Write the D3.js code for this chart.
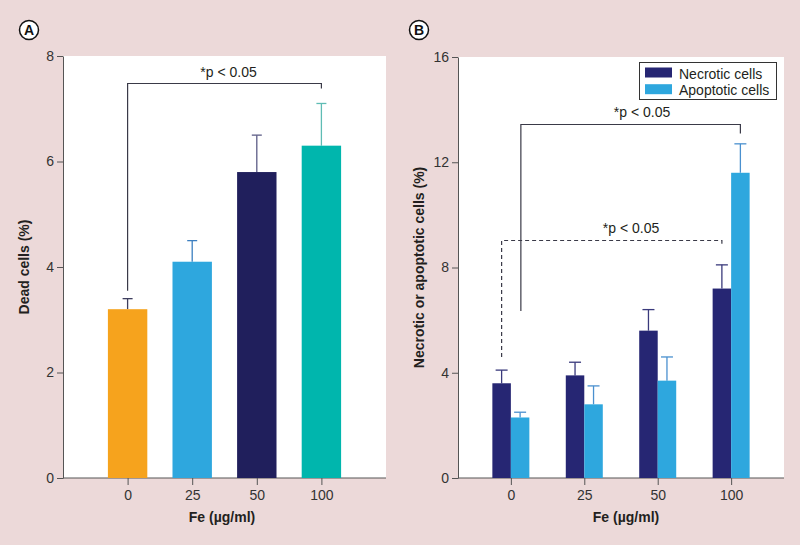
<!DOCTYPE html>
<html><head><meta charset="utf-8">
<script src="https://cdn.jsdelivr.net/npm/d3@7"></script>
<style>
body{margin:0;background:#ecd9d9;}
svg{display:block;font-family:"Liberation Sans",Arial,sans-serif;}
</style></head>
<body><svg id="c" width="800" height="545"></svg>
<script>
// ---- data ----
const doses = ["0","25","50","100"];
// Panel A: dead cells (%)
const deadMean = [3.2, 4.1, 5.8, 6.3];
const deadErr  = [0.2, 0.4, 0.7, 0.8];
const deadColors = ["#f6a31d","#2ea7de","#201f5c","#00b6ad"];
const deadErrColors = ["#3e3e5e","#3c7fc0","#5c5c86","#5fbcb4"];
const yTicksA = [0,2,4,6,8];
// Panel B: necrotic / apoptotic cells (%)
const seriesNames = ["Necrotic cells","Apoptotic cells"];
const necroticMean = [3.6, 3.9, 5.6, 7.2];
const necroticErr  = [0.5, 0.5, 0.8, 0.9];
const apoptoticMean = [2.3, 2.8, 3.7, 11.6];
const apoptoticErr  = [0.2, 0.7, 0.9, 1.1];
const seriesColors = ["#262673","#2ea7de"];
const seriesErrColors = ["#3a3a7c","#4a90cf"];
const yTicksB = [0,4,8,12,16];

const svg = d3.select("#c");
const axisCol = "#555";
const txtCol = "#231f20";

function drawAxes(g, x, y, ticks, x0, x1, yTop, yBot, title, xTitleX, xTitleY, yTitleX){
  g.append("rect").attr("x",x0).attr("y",yTop).attr("width",x1-x0).attr("height",yBot-yTop).attr("fill","#fff");
  const ya = g.append("g").attr("transform",`translate(${x0},0)`)
    .call(d3.axisLeft(y).tickValues(ticks).tickSize(6).tickPadding(3).tickSizeOuter(0));
  ya.select(".domain").attr("stroke",axisCol);
  ya.selectAll("line").attr("stroke",axisCol);
  ya.selectAll("text").attr("font-size",14).attr("fill","#333").attr("font-family","Liberation Sans, Arial, sans-serif");
  const xa = g.append("g").attr("transform",`translate(0,${yBot})`)
    .call(d3.axisBottom(x).tickSize(7).tickPadding(5).tickSizeOuter(0));
  xa.select(".domain").attr("d",`M${x0},0H${x1}`).attr("stroke",axisCol);
  xa.selectAll("line").attr("stroke",axisCol);
  xa.selectAll("text").attr("font-size",14).attr("fill","#333").attr("font-family","Liberation Sans, Arial, sans-serif");
  g.append("text").attr("x",xTitleX).attr("y",xTitleY).attr("text-anchor","middle")
    .attr("font-size",14).attr("font-weight","bold").attr("fill",txtCol).text("Fe (µg/ml)");
  g.append("text").attr("transform",`translate(${yTitleX},${(yTop+yBot)/2}) rotate(-90)`)
    .attr("text-anchor","middle").attr("font-size",14).attr("font-weight","bold").attr("fill",txtCol).text(title);
}
function panelLabel(cx, cy, t){
  svg.append("circle").attr("cx",cx).attr("cy",cy).attr("r",9.5).attr("fill","#fff").attr("stroke","#111").attr("stroke-width",1.5);
  svg.append("text").attr("x",cx).attr("y",cy+5).attr("text-anchor","middle").attr("font-size",14).attr("font-weight","bold").attr("fill","#111").text(t);
}
function errBar(g, cx, yTop, yBase, col, cap){
  g.append("line").attr("x1",cx).attr("x2",cx).attr("y1",yBase).attr("y2",yTop).attr("stroke",col).attr("stroke-width",1.3);
  g.append("line").attr("x1",cx-cap).attr("x2",cx+cap).attr("y1",yTop).attr("y2",yTop).attr("stroke",col).attr("stroke-width",1.3);
}

// ---- Panel A ----
{
  const x0=63, x1=386, yTop=56, yBot=478;
  const x = d3.scalePoint().domain(doses).range([x0,x1]).padding(1);
  const y = d3.scaleLinear().domain([0,8]).range([yBot,yTop]);
  const g = svg.append("g");
  drawAxes(g,x,y,yTicksA,x0,x1,yTop,yBot,"Dead cells (%)",222,522,29);
  const bw = x.step()*0.61;
  doses.forEach((d,i)=>{
    errBar(g, x(d), y(deadMean[i]+deadErr[i]), y(deadMean[i]), deadErrColors[i], 5);
    g.append("rect").attr("x",x(d)-bw/2).attr("y",y(deadMean[i])).attr("width",bw).attr("height",y(0)-y(deadMean[i])).attr("fill",deadColors[i]);
  });
  // significance bracket
  const by = 83.5;
  g.append("path").attr("d",`M${x("0")},${y(deadMean[0]+deadErr[0])-8}V${by}H${x("100")}V${by+5}`)
    .attr("fill","none").attr("stroke","#3a3a48").attr("stroke-width",1.2);
  g.append("text").attr("x",(x("0")+x("100"))/2+4).attr("y",77).attr("text-anchor","middle").attr("font-size",14).attr("fill",txtCol).text("*p < 0.05");
}

// ---- Panel B ----
{
  const x0=458, x1=784, yTop=57, yBot=478;
  const x = d3.scalePoint().domain(doses).range([x0,x1]).padding(0.72);
  const y = d3.scaleLinear().domain([0,16]).range([yBot,yTop]);
  const g = svg.append("g");
  drawAxes(g,x,y,yTicksB,x0,x1,yTop,yBot,"Necrotic or apoptotic cells (%)",626,522,424);
  const bw = 18.5;
  const means=[necroticMean, apoptoticMean], errs=[necroticErr, apoptoticErr];
  [0,1].forEach(s=>{
    doses.forEach((d,i)=>{
      const bx = s===0 ? x(d)-bw : x(d);
      errBar(g, bx+bw/2, y(means[s][i]+errs[s][i]), y(means[s][i]), seriesErrColors[s], 6);
      g.append("rect").attr("x",bx).attr("y",y(means[s][i])).attr("width",bw).attr("height",y(0)-y(means[s][i])).attr("fill",seriesColors[s]);
    });
  });
  // solid bracket
  const sy = 124.5;
  g.append("path").attr("d",`M${x("0")+10},${311}V${sy}H${x("100")+bw/2}V${sy+9}`)
    .attr("fill","none").attr("stroke","#3a3a48").attr("stroke-width",1.2);
  g.append("text").attr("x",642).attr("y",117).attr("text-anchor","middle").attr("font-size",14).attr("fill",txtCol).text("*p < 0.05");
  // dashed bracket
  const dy = 240.5;
  g.append("path").attr("d",`M${x("0")-bw/2},${357}V${dy}H${x("100")-bw/2}V${dy+5}`)
    .attr("fill","none").attr("stroke","#3a3a48").attr("stroke-width",1.2).attr("stroke-dasharray","4,3");
  g.append("text").attr("x",631).attr("y",233).attr("text-anchor","middle").attr("font-size",14).attr("fill",txtCol).text("*p < 0.05");
  // legend
  const lg = g.append("g");
  lg.append("rect").attr("x",639.5).attr("y",62.5).attr("width",137).attr("height",37).attr("fill","#fff").attr("stroke","#333").attr("stroke-width",1);
  seriesNames.forEach((n,i)=>{
    lg.append("rect").attr("x",645).attr("y",67.5+i*16.7).attr("width",27).attr("height",10).attr("fill",seriesColors[i]);
    lg.append("text").attr("x",679).attr("y",78.5+i*16.7).attr("font-size",14).attr("fill",txtCol).text(n);
  });
}
panelLabel(29,30,"A");
panelLabel(419,30,"B");
</script></body></html>
